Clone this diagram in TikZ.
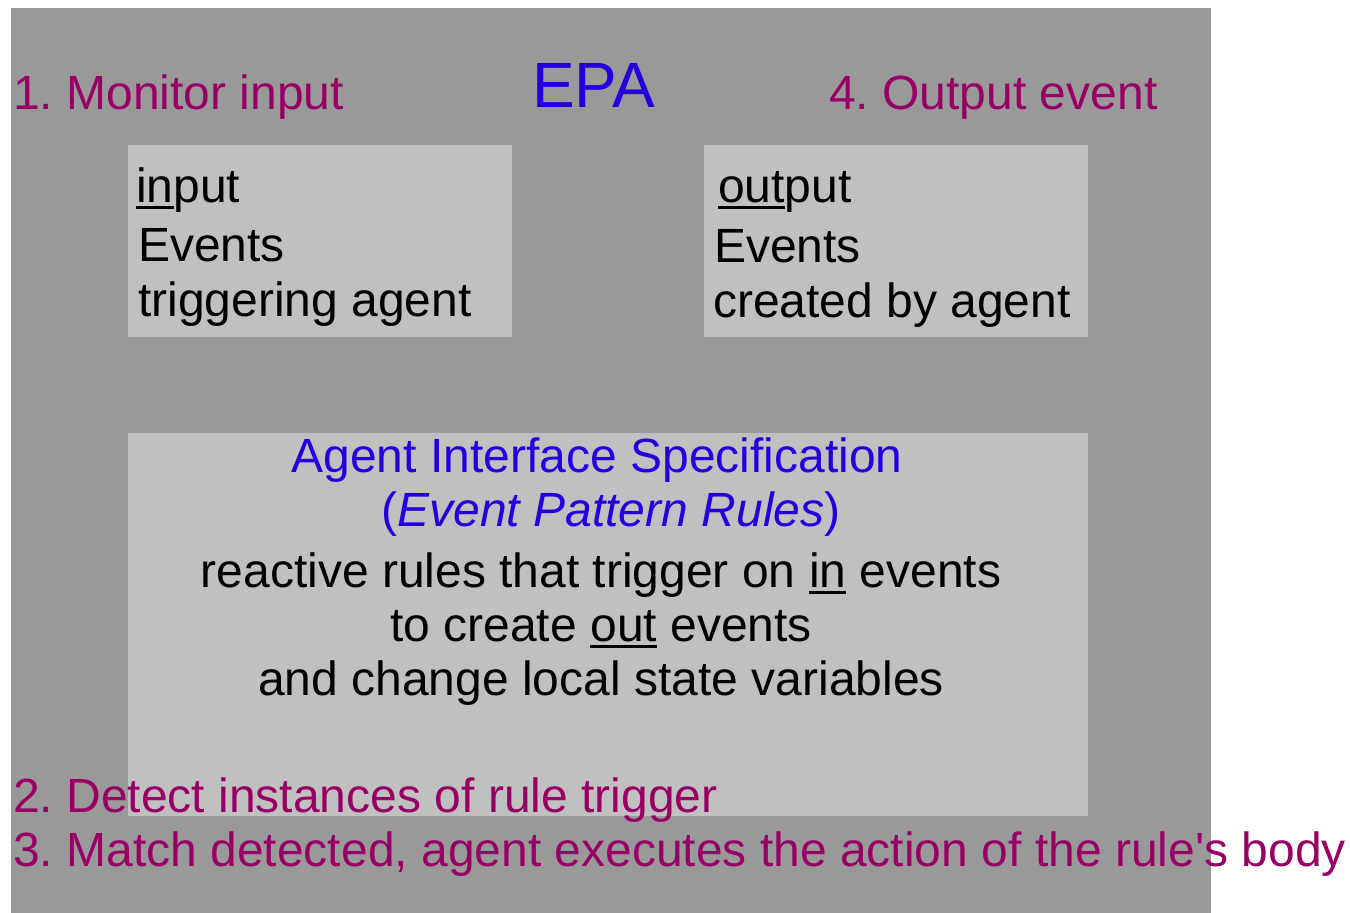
\documentclass[tikz,border=0pt]{standalone}
\usepackage{fontspec}
\setmainfont{Liberation Sans}
\frenchspacing
\definecolor{slate}{HTML}{999999}
\definecolor{panelgray}{HTML}{C0C0C0}
\definecolor{steppurple}{HTML}{990066}
\definecolor{titleblue}{HTML}{2200DD}
% underline drawn as a rule just below the baseline
\newcommand\undl[1]{\setbox0\hbox{#1}\rlap{\rule[-6.5pt]{\wd0}{2.4pt}}#1}
\tikzset{
  panel/.style={fill=panelgray, draw=none, inner sep=0pt, anchor=north west},
  txt/.style={inner sep=0pt, font=\fontsize{48}{58}\selectfont},
  stepnote/.style={txt, text=steppurple, anchor=base west},
  boxline/.style={txt, text=black, anchor=base west},
  ruleline/.style={txt, text=black, anchor=base},
  speclabel/.style={txt, text=titleblue, anchor=base},
}
\begin{document}
\begin{tikzpicture}[x=1pt,y=-1pt]
\useasboundingbox (0,0) rectangle (1350,913);
\fill[slate] (11,8) rectangle (1211,913);

% panels
\node[panel, minimum width=384pt, minimum height=192pt] (inbox) at (128,145) {};
\node[panel, minimum width=384pt, minimum height=192pt] (outbox) at (704,145) {};
\node[panel, minimum width=960pt, minimum height=383pt] (spec) at (128,433) {};

% title
\node[txt, text=titleblue, anchor=base west, font=\fontsize{64}{72}\selectfont] (epa) at (532,107) {EPA};

% numbered steps
\node[stepnote] (s1) at (13,109) {1. Monitor input};
\node[stepnote] (s4) at (829,109) {4. Output event};
\node[stepnote] (s2) at (13,812) {2. Detect instances of rule trigger};
\node[stepnote] (s3) at (13,866) {3. Match detected, agent executes the action of the rule\textquotesingle s body};

% input panel text
\node[boxline] (in1) at (136,202) {\undl{in}put};
\node[boxline] (in2) at (138,261) {Events};
\node[boxline] (in3) at (138,316) {triggering agent};

% output panel text
\node[boxline] (out1) at (718,202) {\undl{out}put};
\node[boxline] (out2) at (714,262) {Events};
\node[boxline] (out3) at (713,317) {created by agent};

% specification panel text
\node[speclabel] (sp1) at (597,472) {Agent Interface Specification};
\node[speclabel] (sp2) at (611,526) {(\textit{Event Pattern Rules})};
\node[ruleline] (r1) at (601,587) {reactive rules that trigger on \undl{in} events};
\node[ruleline] (r2) at (601,641) {to create \undl{out} events};
\node[ruleline] (r3) at (601,695) {and change local state variables};
\end{tikzpicture}
\end{document}
